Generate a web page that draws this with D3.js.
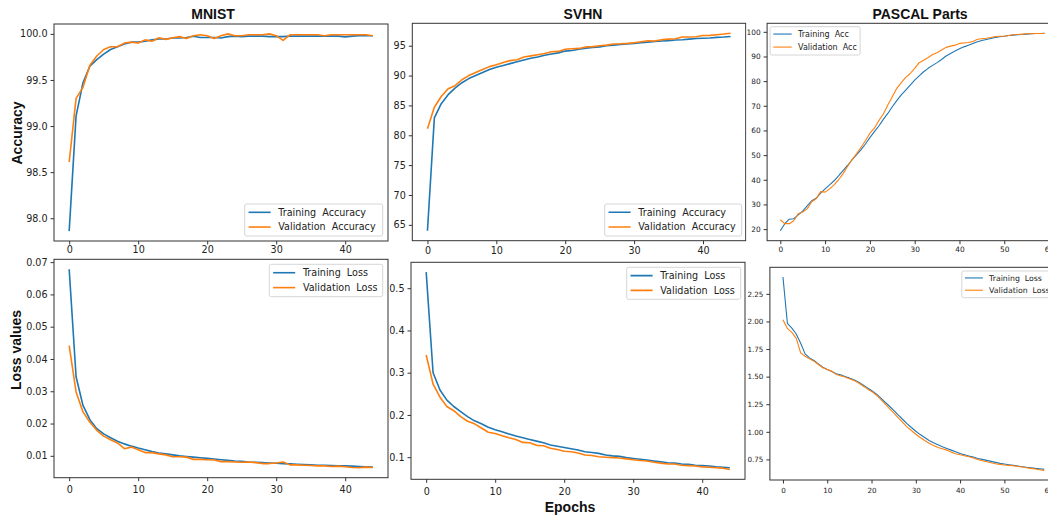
<!DOCTYPE html>
<html>
<head>
<meta charset="utf-8">
<script src="https://cdn.jsdelivr.net/npm/d3@7"></script>
<style>
  body { margin: 0; background: #fff; }
  svg { display: block; }
</style>
</head>
<body>
<svg id="fig" width="1048" height="516"></svg>
<script>
// ---- data ----
var mnistTrainAcc = [97.86, 99.11, 99.47, 99.65, 99.72, 99.78, 99.83, 99.86, 99.89, 99.91,
    99.91, 99.92, 99.935, 99.945, 99.945, 99.955, 99.955, 99.96, 99.975, 99.96,
    99.96, 99.96, 99.955, 99.97, 99.975, 99.97, 99.975, 99.975, 99.975, 99.97,
    99.97, 99.97, 99.975, 99.975, 99.975, 99.975, 99.975, 99.975, 99.975, 99.975,
    99.967, 99.975, 99.98, 99.98, 99.98];
var mnistValAcc = [98.61, 99.30, 99.42, 99.66, 99.76, 99.83, 99.86, 99.86, 99.90, 99.91,
    99.90, 99.935, 99.92, 99.957, 99.94, 99.957, 99.97, 99.95, 99.98, 99.99,
    99.98, 99.95, 99.98, 100.0, 99.98, 99.98, 99.99, 99.99, 99.99, 100.0,
    99.98, 99.93, 99.99, 99.99, 99.99, 99.99, 99.99, 99.98, 99.99, 99.99,
    99.99, 99.99, 99.99, 99.99, 99.98];

var svhnTrainAcc = [64.0, 82.9, 85.3, 86.8, 87.9, 88.8, 89.5, 90.0, 90.5, 91.0,
    91.4, 91.7, 92.0, 92.3, 92.6, 92.9, 93.1, 93.4, 93.6, 93.8,
    94.1, 94.2, 94.4, 94.6, 94.7, 94.8, 95.0, 95.1, 95.2, 95.3,
    95.4, 95.5, 95.6, 95.7, 95.8, 95.85, 95.95, 96.0, 96.1, 96.2,
    96.25, 96.3, 96.4, 96.45, 96.55];
var svhnValAcc = [81.1, 84.7, 86.5, 87.8, 88.3, 89.3, 90.0, 90.5, 91.0, 91.5,
    91.8, 92.2, 92.5, 92.65, 93.1, 93.3, 93.5, 93.7, 94.0, 94.05,
    94.4, 94.5, 94.55, 94.8, 94.85, 95.0, 95.1, 95.3, 95.33, 95.4,
    95.5, 95.67, 95.84, 95.8, 96.0, 96.1, 96.17, 96.45, 96.45, 96.5,
    96.7, 96.73, 96.84, 96.95, 97.1];

var pascalTrainAcc = [19.3, 22.2, 24.0, 24.2, 25.8, 27.3, 29.4, 31.5, 32.5, 34.6,
    36.3, 37.9, 39.6, 41.6, 43.7, 45.8, 48.1, 50.1, 52.1, 54.5,
    57.1, 59.5, 61.8, 64.5, 66.9, 69.6, 72.1, 74.4, 76.4, 78.4,
    80.4, 82.1, 83.8, 85.2, 86.4, 87.5, 88.8, 90.2, 91.2, 92.2,
    93.1, 93.9, 94.6, 95.3, 96.0, 96.5, 96.9, 97.3, 97.7, 98.0,
    98.2, 98.5, 98.65, 98.8, 98.9, 99.05, 99.2, 99.3, 99.3, 99.45];
var pascalValAcc = [23.8, 22.2, 22.2, 23.4, 26.2, 26.9, 28.2, 31.1, 32.3, 35.2,
    35.0, 36.3, 37.9, 40.0, 42.4, 45.4, 48.1, 50.5, 53.1, 55.8,
    58.9, 60.9, 64.0, 66.7, 70.3, 73.7, 77.1, 79.4, 81.5, 83.1,
    85.2, 87.5, 88.5, 89.6, 90.8, 91.5, 92.6, 93.7, 94.2, 94.6,
    95.3, 95.5, 95.7, 96.1, 97.0, 97.2, 97.4, 97.7, 98.1, 98.2,
    98.2, 98.5, 98.8, 98.9, 99.05, 99.2, 99.2, 99.3, 99.3, 99.3];

var mnistTrainLoss = [0.0678, 0.0345, 0.0256, 0.0212, 0.0184, 0.0168, 0.0156, 0.0145, 0.0137, 0.0130,
    0.0124, 0.0119, 0.0113, 0.0109, 0.0106, 0.0103, 0.0100, 0.0098, 0.0096, 0.0094,
    0.0092, 0.0090, 0.0088, 0.0086, 0.0084, 0.0083, 0.0081, 0.0080, 0.0079, 0.0078,
    0.0077, 0.0076, 0.0075, 0.0074, 0.0073, 0.0072, 0.0071, 0.0071, 0.0070, 0.0069,
    0.0069, 0.0068, 0.0067, 0.0066, 0.0065];
var mnistValLoss = [0.0441, 0.0298, 0.0236, 0.0204, 0.0179, 0.0161, 0.0150, 0.0140, 0.0122, 0.0127,
    0.0119, 0.0110, 0.0110, 0.0106, 0.0103, 0.0097, 0.0097, 0.0096, 0.0089, 0.0089,
    0.0088, 0.0087, 0.0082, 0.0082, 0.0081, 0.0080, 0.0081, 0.0079, 0.0076, 0.0076,
    0.0078, 0.0081, 0.0072, 0.0072, 0.0071, 0.0070, 0.0069, 0.0069, 0.0067, 0.0068,
    0.0066, 0.0064, 0.0063, 0.0065, 0.0064];

var svhnTrainLoss = [0.538, 0.300, 0.259, 0.235, 0.220, 0.208, 0.196, 0.186, 0.179, 0.171,
    0.165, 0.160, 0.155, 0.150, 0.146, 0.142, 0.138, 0.134, 0.129, 0.126,
    0.123, 0.120, 0.117, 0.113, 0.111, 0.109, 0.105, 0.103, 0.102, 0.099,
    0.097, 0.095, 0.093, 0.091, 0.089, 0.087, 0.086, 0.084, 0.083, 0.081,
    0.080, 0.079, 0.077, 0.076, 0.075];
var svhnValLoss = [0.342, 0.273, 0.242, 0.220, 0.210, 0.196, 0.185, 0.179, 0.169, 0.159,
    0.156, 0.151, 0.146, 0.142, 0.135, 0.134, 0.128, 0.127, 0.121, 0.118,
    0.114, 0.113, 0.110, 0.105, 0.104, 0.101, 0.100, 0.099, 0.098, 0.096,
    0.094, 0.092, 0.091, 0.088, 0.086, 0.084, 0.084, 0.081, 0.080, 0.079,
    0.077, 0.076, 0.075, 0.074, 0.071];

var pascalTrainLoss = [2.403, 1.983, 1.940, 1.886, 1.802, 1.706, 1.670, 1.646, 1.616, 1.586,
    1.565, 1.547, 1.526, 1.517, 1.502, 1.487, 1.472, 1.451, 1.427, 1.400,
    1.375, 1.346, 1.310, 1.270, 1.234, 1.195, 1.153, 1.114, 1.075, 1.039,
    1.005, 0.975, 0.948, 0.921, 0.900, 0.882, 0.864, 0.849, 0.834, 0.819,
    0.804, 0.792, 0.780, 0.771, 0.759, 0.750, 0.741, 0.732, 0.723, 0.714,
    0.708, 0.702, 0.696, 0.690, 0.684, 0.678, 0.675, 0.669, 0.666, 0.660];
var pascalValLoss = [2.016, 1.937, 1.901, 1.847, 1.715, 1.685, 1.661, 1.640, 1.610, 1.580,
    1.565, 1.550, 1.520, 1.508, 1.496, 1.481, 1.466, 1.445, 1.418, 1.391,
    1.366, 1.336, 1.297, 1.255, 1.213, 1.171, 1.129, 1.087, 1.045, 1.012,
    0.978, 0.948, 0.921, 0.897, 0.876, 0.858, 0.846, 0.834, 0.816, 0.801,
    0.792, 0.783, 0.774, 0.762, 0.750, 0.738, 0.729, 0.720, 0.711, 0.705,
    0.699, 0.696, 0.693, 0.687, 0.681, 0.675, 0.669, 0.663, 0.657, 0.651];

// tick labels
var epochTicks45 = [0, 10, 20, 30, 40];
var epochTicks60 = [0, 10, 20, 30, 40, 50, 60];
var mnistAccTicks = [98.0, 98.5, 99.0, 99.5, 100.0];
var svhnAccTicks = [65, 70, 75, 80, 85, 90, 95];
var pascalAccTicks = [20, 30, 40, 50, 60, 70, 80, 90, 100];
var mnistLossTicks = [0.01, 0.02, 0.03, 0.04, 0.05, 0.06, 0.07];
var svhnLossTicks = [0.1, 0.2, 0.3, 0.4, 0.5];
var pascalLossTicks = [0.75, 1.00, 1.25, 1.50, 1.75, 2.00, 2.25];

var titles = ["MNIST", "SVHN", "PASCAL Parts"];
var accNames = ["Training  Accuracy", "Validation  Accuracy"];
var accNamesShort = ["Training  Acc", "Validation  Acc"];
var lossNames = ["Training  Loss", "Validation  Loss"];

var blue = "#1f77b4", orange = "#ff7f0e", ink = "#222";

window.addEventListener("load", makeFigure);

function makeFigure() {
    var svg = d3.select("#fig");

    // each sub-image is clipped horizontally like the pasted screenshots
    panel(svg, { id: "p1", l: 54, r: 388, t: 24, b: 241, clip: [0, 389],
        train: mnistTrainAcc, val: mnistValAcc, xt: epochTicks45, yt: mnistAccTicks, yf: ".1f",
        fs: 9.6, lw: 1.6, pad: 2, names: accNames,
        leg: { loc: "lr", w: 138, h: 32, px: 5.3, py: 5, fs: 9.6 } });
    panel(svg, { id: "p2", l: 412.3, r: 745.7, t: 23.3, b: 240.7, clip: [389, 746.5],
        train: svhnTrainAcc, val: svhnValAcc, xt: epochTicks45, yt: svhnAccTicks, yf: "d",
        fs: 9.6, lw: 1.6, pad: 3, names: accNames,
        leg: { loc: "lr", w: 137, h: 32, px: 4, py: 4.7, fs: 9.6 } });
    panel(svg, { id: "p3", l: 767.1, r: 1057.8, t: 23.3, b: 240.7, clip: [746, 1048],
        train: pascalTrainAcc, val: pascalValAcc, xt: epochTicks60, yt: pascalAccTicks, yf: "d",
        fs: 7.4, lw: 1.1, pad: 3, names: accNamesShort,
        leg: { loc: "ul", w: 90, h: 28.3, px: 3, py: 3.4, fs: 8 } });
    panel(svg, { id: "p4", l: 54, r: 388, t: 259.3, b: 477.7, clip: [0, 389],
        train: mnistTrainLoss, val: mnistValLoss, xt: epochTicks45, yt: mnistLossTicks, yf: ".2f",
        fs: 9.6, lw: 1.6, pad: 5, names: lossNames,
        leg: { loc: "ur", w: 113.4, h: 32.4, px: 5.3, py: 5, fs: 9.6 } });
    panel(svg, { id: "p5", l: 411, r: 745, t: 262.3, b: 479.3, clip: [389.5, 747.5],
        train: svhnTrainLoss, val: svhnValLoss, xt: epochTicks45, yt: svhnLossTicks, yf: ".1f",
        fs: 9.6, lw: 1.6, pad: 5, names: lossNames,
        leg: { loc: "ur", w: 114, h: 32, px: 4.3, py: 5, fs: 9.6 } });
    panel(svg, { id: "p6", l: 769.9, r: 1057.3, t: 267.3, b: 480, clip: [747.5, 1048],
        train: pascalTrainLoss, val: pascalValLoss, xt: epochTicks60, yt: pascalLossTicks, yf: ".2f",
        fs: 7.2, lw: 1.1, pad: 4, names: lossNames,
        leg: { loc: "ur", w: 92.5, h: 26.7, px: 3, py: 3.7, fs: 7.8 } });

    // titles and shared labels
    var bold = "'Liberation Sans', Arial, sans-serif";
    svg.selectAll(".title").data(titles).enter().append("text")
        .attr("class", "title")
        .attr("x", (d, i) => [213, 583, 920][i]).attr("y", 18.5)
        .attr("text-anchor", "middle").attr("font-family", bold)
        .attr("font-weight", "bold").attr("font-size", 14).attr("fill", "#111")
        .text(d => d);

    svg.append("text").attr("transform", "translate(22,133) rotate(-90)")
        .attr("text-anchor", "middle").attr("font-family", bold)
        .attr("font-weight", "bold").attr("font-size", 14).attr("fill", "#111")
        .text("Accuracy");
    svg.append("text").attr("transform", "translate(21,350) rotate(-90)")
        .attr("text-anchor", "middle").attr("font-family", bold)
        .attr("font-weight", "bold").attr("font-size", 14).attr("fill", "#111")
        .text("Loss values");
    svg.append("text").attr("x", 570).attr("y", 511.5)
        .attr("text-anchor", "middle").attr("font-family", bold)
        .attr("font-weight", "bold").attr("font-size", 14).attr("fill", "#111")
        .text("Epochs");
}

function panel(svg, cfg) {
    var n = cfg.train.length;
    var scX = d3.scaleLinear().domain([-0.05 * (n - 1), 1.05 * (n - 1)]).range([cfg.l, cfg.r]);
    var [y0, y1] = d3.extent(cfg.train.concat(cfg.val));
    var m = 0.05 * (y1 - y0);
    var scY = d3.scaleLinear().domain([y0 - m, y1 + m]).range([cfg.b, cfg.t]);

    svg.append("clipPath").attr("id", "clip-" + cfg.id)
        .append("rect").attr("x", cfg.clip[0]).attr("y", 0)
        .attr("width", cfg.clip[1] - cfg.clip[0]).attr("height", 516);
    var g = svg.append("g").attr("clip-path", "url(#clip-" + cfg.id + ")");

    var line = d3.line().x((d, i) => scX(i)).y(d => scY(d));
    [[cfg.train, blue], [cfg.val, orange]].forEach(function (s) {
        g.append("path").attr("d", line(s[0])).attr("fill", "none")
            .attr("stroke", s[1]).attr("stroke-width", cfg.lw)
            .attr("stroke-linejoin", "round");
    });

    // spines
    g.append("rect").attr("x", cfg.l).attr("y", cfg.t)
        .attr("width", cfg.r - cfg.l).attr("height", cfg.b - cfg.t)
        .attr("fill", "none").attr("stroke", "#333").attr("stroke-width", 1);

    var font = "'DejaVu Sans', sans-serif";
    var ax = g.append("g").attr("transform", "translate(0," + cfg.b + ")")
        .call(d3.axisBottom(scX).tickValues(cfg.xt).tickSizeOuter(0)
            .tickSize(3.5).tickPadding(cfg.pad));
    var ay = g.append("g").attr("transform", "translate(" + cfg.l + ",0)")
        .call(d3.axisLeft(scY).tickValues(cfg.yt).tickFormat(d3.format(cfg.yf))
            .tickSizeOuter(0).tickSize(3.5).tickPadding(3));
    [ax, ay].forEach(function (a) {
        a.select(".domain").remove();
        a.selectAll("line").attr("stroke", "#333");
        a.selectAll("text").attr("fill", ink).attr("font-family", font)
            .attr("font-size", cfg.fs);
    });

    // legend
    var L = cfg.leg;
    var lx = L.loc == "ul" ? cfg.l + L.px : cfg.r - L.px - L.w;
    var ly = L.loc == "lr" ? cfg.b - L.py - L.h : cfg.t + L.py;
    var lg = g.append("g").attr("transform", "translate(" + lx + "," + ly + ")");
    lg.append("rect").attr("width", L.w).attr("height", L.h).attr("rx", 2)
        .attr("fill", "#fff").attr("fill-opacity", 0.85)
        .attr("stroke", "#d6d6d6").attr("stroke-width", 1);
    var rows = lg.selectAll(".row").data(cfg.names).enter().append("g")
        .attr("transform", (d, i) => "translate(0," + (L.h * (i ? 0.72 : 0.26)) + ")");
    rows.append("line").attr("x1", L.fs * 0.4).attr("x2", L.fs * 2.7)
        .attr("stroke", (d, i) => i ? orange : blue).attr("stroke-width", cfg.lw);
    rows.append("text").attr("x", L.fs * 3.5).attr("dy", "0.35em")
        .attr("font-family", font).attr("font-size", L.fs).attr("fill", ink)
        .style("white-space", "pre").text(d => d);
}
</script>
</body>
</html>
